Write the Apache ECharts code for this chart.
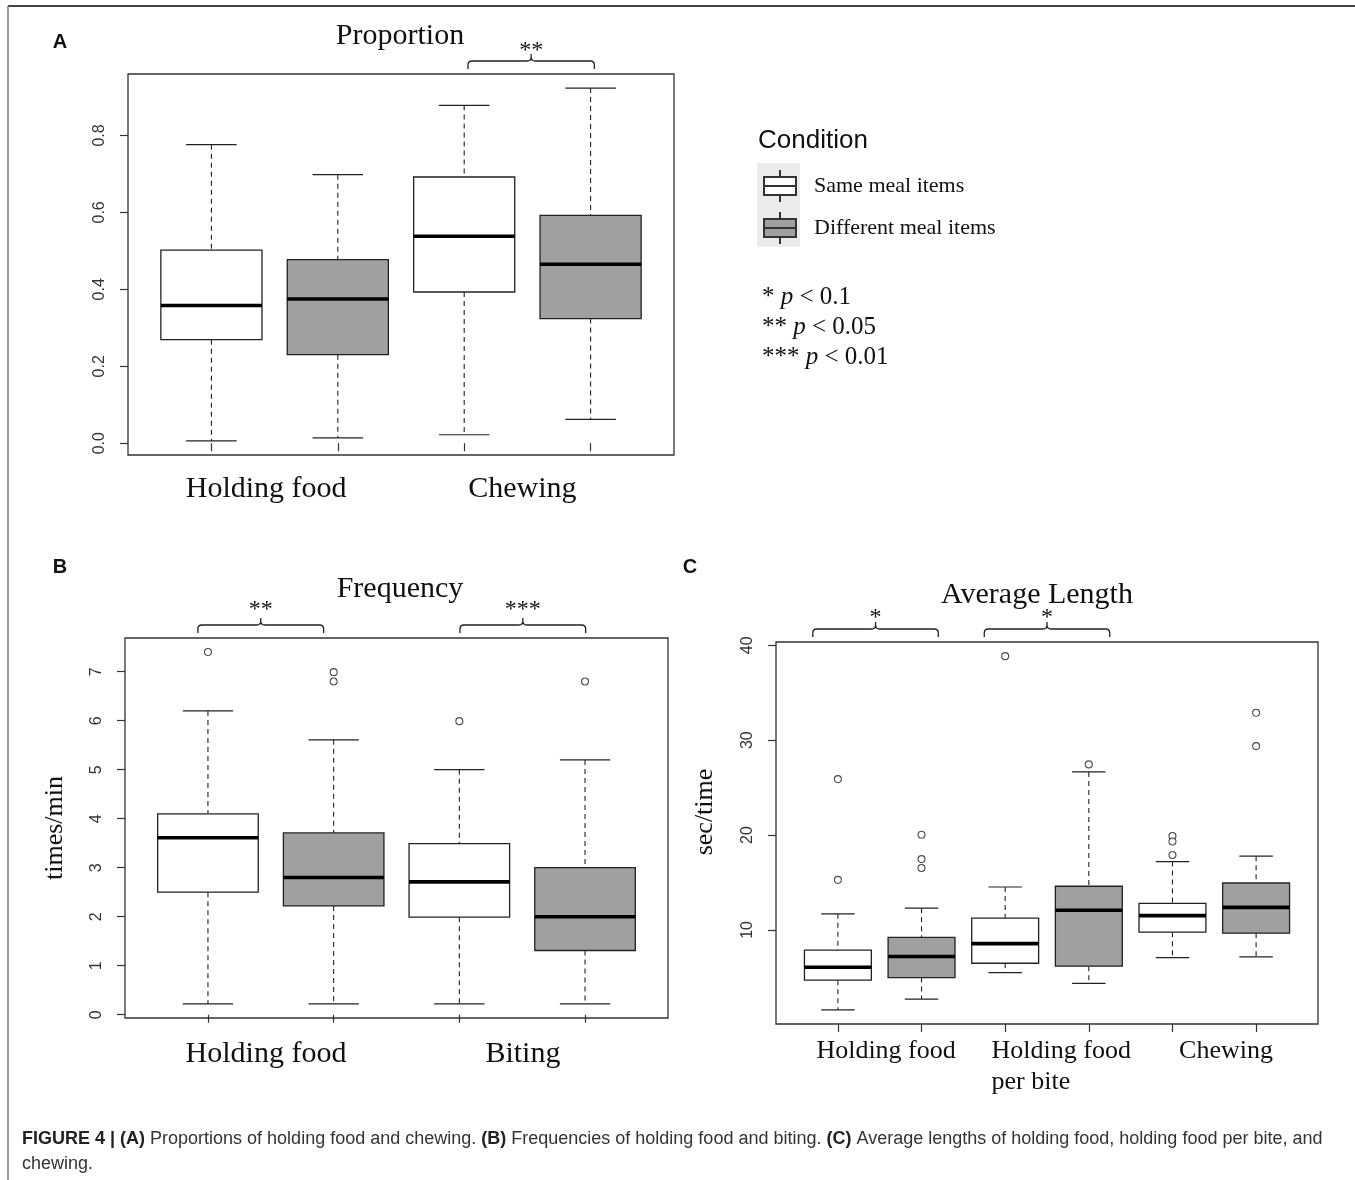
<!DOCTYPE html>
<html>
<head>
<meta charset="utf-8">
<script src="https://cdn.jsdelivr.net/npm/echarts@6/dist/echarts.min.js"></script>
<style>html,body{margin:0;padding:0;background:#fff}#c{width:1355px;height:1180px}</style>
</head>
<body>
<div id="c"></div>
<script>
// ---------------- DATA ----------------
const conditions = ['Same meal items', 'Different meal items'];

// Panel A — Proportion. Each box: [lower whisker, Q1, median, Q3, upper whisker]
const propCategories = ['Holding food', 'Chewing'];
const propSame = [[0.006, 0.269, 0.358, 0.502, 0.776], [0.022, 0.393, 0.538, 0.692, 0.878]];
const propDiff = [[0.014, 0.230, 0.375, 0.477, 0.698], [0.062, 0.324, 0.465, 0.592, 0.923]];
const propSameOutliers = [[], []];
const propDiffOutliers = [[], []];
const propSig = [['Chewing', '**']];
const propTicks = [0, 0.2, 0.4, 0.6, 0.8];

// Panel B — Frequency (times/min)
const freqCategories = ['Holding food', 'Biting'];
const freqSame = [[0.22, 2.50, 3.61, 4.10, 6.20], [0.22, 1.99, 2.71, 3.49, 5.00]];
const freqDiff = [[0.22, 2.22, 2.80, 3.71, 5.61], [0.22, 1.31, 2.00, 3.00, 5.20]];
const freqSameOutliers = [[7.40], [5.99]];
const freqDiffOutliers = [[6.99, 6.80], [6.80]];
const freqSig = [['Holding food', '**'], ['Biting', '***']];
const freqTicks = [0, 1, 2, 3, 4, 5, 6, 7];

// Panel C — Average Length (sec/time)
const lenCategories = ['Holding food', 'Holding food\nper bite', 'Chewing'];
const lenSame = [[1.58, 4.71, 6.07, 7.88, 11.70], [5.50, 6.49, 8.56, 11.25, 14.53], [7.09, 9.77, 11.51, 12.80, 17.21]];
const lenDiff = [[2.71, 4.98, 7.21, 9.21, 12.30], [4.37, 6.18, 12.08, 14.61, 26.66], [7.17, 9.66, 12.38, 14.95, 17.78]];
const lenSameOutliers = [[25.9, 15.28], [38.86], [19.9, 19.33, 17.9]];
const lenDiffOutliers = [[20.04, 17.47, 16.53], [27.45], [32.89, 29.38]];
const lenSig = [['Holding food', '*'], ['Holding food\nper bite', '*']];
const lenTicks = [10, 20, 30, 40];

// ---------------- LAYOUT / STYLE ----------------
const SERIF = 'Liberation Serif', SANS = 'Liberation Sans';
const FILLS = ['#ffffff', '#a0a0a0'];
const panels = [
  { cats: propCategories, same: propSame, diff: propDiff, sameOut: propSameOutliers, diffOut: propDiffOutliers,
    sig: propSig, ticks: propTicks, dec: 1, yName: '', grid: { left: 128, top: 74, width: 546, height: 381 },
    labelPos: [1.433, 3.46], labelSize: 30, labelMargin: 17, labelLH: 34, sigPad: 0, sigShift: [0.03], starOff: -28, nameGap: 57, namePad: 0 },
  { cats: freqCategories, same: freqSame, diff: freqDiff, sameOut: freqSameOutliers, diffOut: freqDiffOutliers,
    sig: freqSig, ticks: freqTicks, dec: 0, yName: 'times/min', grid: { left: 125, top: 638, width: 543, height: 380 },
    labelPos: [1.462, 3.506], labelSize: 30, labelMargin: 19, labelLH: 34, sigPad: 0, sigShift: [-0.08, 0.005], starOff: -33, nameGap: 57, namePad: 0 },
  { cats: lenCategories, same: lenSame, diff: lenDiff, sameOut: lenSameOutliers, diffOut: lenDiffOutliers,
    sig: lenSig, ticks: lenTicks, dec: 0, yName: 'sec/time', grid: { left: 776, top: 642, width: 542, height: 382 },
    labelPos: [1.576, 3.67, 5.64], labelSize: 26, labelMargin: 12, labelLH: 31, sigPad: 0.25, sigShift: [-0.05, 0], starOff: -29, nameGap: 58, namePad: 42 }
];

function renderBox(params, api) {
  const x = api.value(0);
  const cx = api.coord([x, api.value(3)])[0];
  const xl = api.coord([x - 0.4, 0])[0], xr = api.coord([x + 0.4, 0])[0];
  const cl = api.coord([x - 0.2, 0])[0], cr = api.coord([x + 0.2, 0])[0];
  const y = i => api.coord([x, api.value(i)])[1];
  const yLo = y(1), yQ1 = y(2), yMed = y(3), yQ3 = y(4), yHi = y(5);
  const dash = { stroke: '#222', lineWidth: 1.1, lineDash: [5, 4] };
  const solid = { stroke: '#222', lineWidth: 1.2 };
  return { type: 'group', children: [
    { type: 'line', shape: { x1: cx, y1: yHi, x2: cx, y2: yQ3 }, style: dash },
    { type: 'line', shape: { x1: cx, y1: yQ1, x2: cx, y2: yLo }, style: dash },
    { type: 'line', shape: { x1: cl, y1: yHi, x2: cr, y2: yHi }, style: solid },
    { type: 'line', shape: { x1: cl, y1: yLo, x2: cr, y2: yLo }, style: solid },
    { type: 'rect', shape: { x: xl, y: yQ3, width: xr - xl, height: yQ1 - yQ3 },
      style: { fill: api.visual('color'), stroke: '#222', lineWidth: 1.3 } },
    { type: 'line', shape: { x1: xl, y1: yMed, x2: xr, y2: yMed }, style: { stroke: '#000', lineWidth: 3.6 } }
  ] };
}

function makeBracketRender(labels, starOff) {
  return function (params, api) {
    const x1 = api.coord([api.value(0), 0])[0], x2 = api.coord([api.value(1), 0])[0];
    const top = params.coordSys.y;
    const m = (x1 + x2) / 2, yEnd = top - 5, yH = top - 13, yTip = top - 20, r = 4;
    const d = `M${x1} ${yEnd} L${x1} ${yH + r} Q${x1} ${yH} ${x1 + r} ${yH} L${m - r} ${yH} Q${m} ${yH} ${m} ${yH - r} L${m} ${yTip} ` +
              `M${m} ${yH - r} Q${m} ${yH} ${m + r} ${yH} L${x2 - r} ${yH} Q${x2} ${yH} ${x2} ${yH + r} L${x2} ${yEnd}`;
    return { type: 'group', children: [
      { type: 'path', shape: { pathData: d }, style: { stroke: '#222', lineWidth: 1.3, fill: 'none' } },
      { type: 'text', x: m, y: top + starOff + 5,
        style: { text: labels[params.dataIndex], fontFamily: SERIF, fontSize: 24, fill: '#111', align: 'center', verticalAlign: 'middle' } }
    ] };
  };
}

function rangeExt(arrs) {
  const all = [];
  arrs.forEach(a => a.forEach(b => b.forEach(v => all.push(v))));
  const lo = Math.min(...all), hi = Math.max(...all), sp = hi - lo;
  return [lo - 0.04 * sp, hi + 0.04 * sp];
}

const grids = [], xAxes = [], yAxes = [], series = [];
panels.forEach((p, gi) => {
  const n = p.cats.length * 2;
  grids.push(Object.assign({ show: true, borderColor: '#333', borderWidth: 1.3, backgroundColor: 'transparent' }, p.grid));
  const boxPos = [];
  for (let i = 1; i <= n; i++) boxPos.push(i);
  xAxes.push({
    type: 'value', gridIndex: gi, min: 0.5 - 0.04 * n, max: n + 0.5 + 0.04 * n,
    axisLine: { show: false }, splitLine: { show: false },
    axisTick: { show: true, length: 8, customValues: boxPos, lineStyle: { color: '#333', width: 1.2 } },
    axisLabel: {
      customValues: p.labelPos, margin: p.labelMargin, fontFamily: SERIF, fontSize: p.labelSize, color: '#111',
      lineHeight: p.labelLH, align: 'center',
      formatter: v => {
        let k = 0, best = 1e9;
        p.labelPos.forEach((q, i) => { if (Math.abs(q - v) < best) { best = Math.abs(q - v); k = i; } });
        return p.cats[k].split('\n').map(s => '{l|' + s + '}').join('\n');
      },
      rich: { l: { align: 'left', fontFamily: SERIF, fontSize: p.labelSize, color: '#111', lineHeight: p.labelLH } }
    }
  });
  const ext = rangeExt([p.same, p.diff, p.sameOut, p.diffOut]);
  yAxes.push({
    type: 'value', gridIndex: gi, min: ext[0], max: ext[1],
    axisLine: { show: false }, splitLine: { show: false },
    axisTick: { show: true, length: 8, customValues: p.ticks, lineStyle: { color: '#333', width: 1.2 } },
    axisLabel: { customValues: p.ticks, rotate: 90, margin: 20, fontFamily: SANS, fontSize: 16, color: '#333',
      formatter: v => Number(v).toFixed(p.dec) },
    name: p.yName, nameLocation: 'middle', nameRotate: 90, nameGap: p.nameGap,
    nameTextStyle: { fontFamily: SERIF, fontSize: 26, color: '#111', padding: [0, 0, 0, p.namePad] }
  });
  [p.same, p.diff].forEach((boxes, j) => {
    series.push({
      type: 'custom', name: conditions[j], xAxisIndex: gi, yAxisIndex: gi, clip: false,
      itemStyle: { color: FILLS[j], borderColor: '#333', borderWidth: 2 },
      renderItem: renderBox, encode: { x: 0, y: [1, 2, 3, 4, 5] },
      data: boxes.map((b, c) => [2 * c + j + 1].concat(b)), z: 2
    });
  });
  [p.sameOut, p.diffOut].forEach((outs, j) => {
    const pts = [];
    outs.forEach((vals, c) => vals.forEach(v => pts.push([2 * c + j + 1, v])));
    series.push({
      type: 'scatter', name: conditions[j] + ' outliers', xAxisIndex: gi, yAxisIndex: gi,
      symbol: 'circle', symbolSize: 7, data: pts, z: 3,
      itemStyle: { color: '#fff', borderColor: '#222', borderWidth: 1.1 }
    });
  });
  const brData = p.sig.map((s, k) => {
    const c = p.cats.indexOf(s[0]);
    return [2 * c + 1 - p.sigPad + p.sigShift[k], 2 * c + 2 + p.sigPad + p.sigShift[k]];
  });
  series.push({
    type: 'custom', name: 'significance', xAxisIndex: gi, yAxisIndex: gi, clip: false, silent: true,
    renderItem: makeBracketRender(p.sig.map(s => s[1]), p.starOff), encode: { x: [0, 1] },
    data: brData, z: 4
  });
});

const ICON = 'path://M16,0L16,7M0,7L32,7L32,25L0,25ZM0,16L32,16M16,25L16,32';

const txt = (x, y, text, size, family, extra) => ({
  type: 'text', x, y, silent: true,
  style: Object.assign({ text, fontSize: size, fontFamily: family, fill: '#111', align: 'center', verticalAlign: 'middle' }, extra || {})
});

const option = {
  animation: false,
  backgroundColor: '#ffffff',
  grid: grids, xAxis: xAxes, yAxis: yAxes, series,
  legend: {
    data: [{ name: conditions[0], icon: ICON }, { name: conditions[1], icon: ICON }],
    orient: 'vertical', left: 763, top: 169, itemWidth: 32, itemHeight: 32, itemGap: 8, padding: 0,
    selectedMode: false,
    itemStyle: { borderColor: '#333', borderWidth: 2 },
    textStyle: { fontFamily: SERIF, fontSize: 22, color: '#111', padding: [0, 0, 0, 13] }
  },
  graphic: [
    { type: 'line', silent: true, shape: { x1: 8, y1: 6, x2: 1355, y2: 6 }, style: { stroke: '#444', lineWidth: 2 } },
    { type: 'line', silent: true, shape: { x1: 8, y1: 6, x2: 8, y2: 1180 }, style: { stroke: '#777', lineWidth: 1.5 } },
    { type: 'rect', silent: true, shape: { x: 757, y: 163, width: 43, height: 84 }, style: { fill: '#ebebeb' } },
    txt(60, 42.5, 'A', 20, SANS, { fontWeight: 'bold' }),
    txt(60, 567, 'B', 20, SANS, { fontWeight: 'bold' }),
    txt(690, 567, 'C', 20, SANS, { fontWeight: 'bold' }),
    txt(400, 36, 'Proportion', 30, SERIF),
    txt(400, 589, 'Frequency', 30, SERIF),
    txt(1037, 595, 'Average Length', 30, SERIF),
    txt(758, 141, 'Condition', 26, SANS, { align: 'left' }),
    { type: 'text', x: 762, y: 282, silent: true,
      style: { text: '* {i|p} < 0.1\n** {i|p} < 0.05\n*** {i|p} < 0.01', fontFamily: SERIF, fontSize: 25, lineHeight: 30,
        fill: '#111', align: 'left', verticalAlign: 'top',
        rich: { i: { fontStyle: 'italic', fontFamily: SERIF, fontSize: 25, lineHeight: 30, fill: '#111' } } } },
    { type: 'text', x: 22, y: 1127, silent: true,
      style: { text: '{b|FIGURE 4 | (A)} Proportions of holding food and chewing. {b|(B)} Frequencies of holding food and biting. {b|(C)} Average lengths of holding food, holding food per bite, and\nchewing.',
        fontFamily: SANS, fontSize: 18, lineHeight: 25, fill: '#333', align: 'left', verticalAlign: 'top',
        rich: { b: { fontWeight: 'bold', fontFamily: SANS, fontSize: 18, lineHeight: 25, fill: '#222' } } } }
  ]
};

const chart = echarts.init(document.getElementById('c'), null, { renderer: 'canvas' });
chart.setOption(option);
</script>
</body>
</html>
